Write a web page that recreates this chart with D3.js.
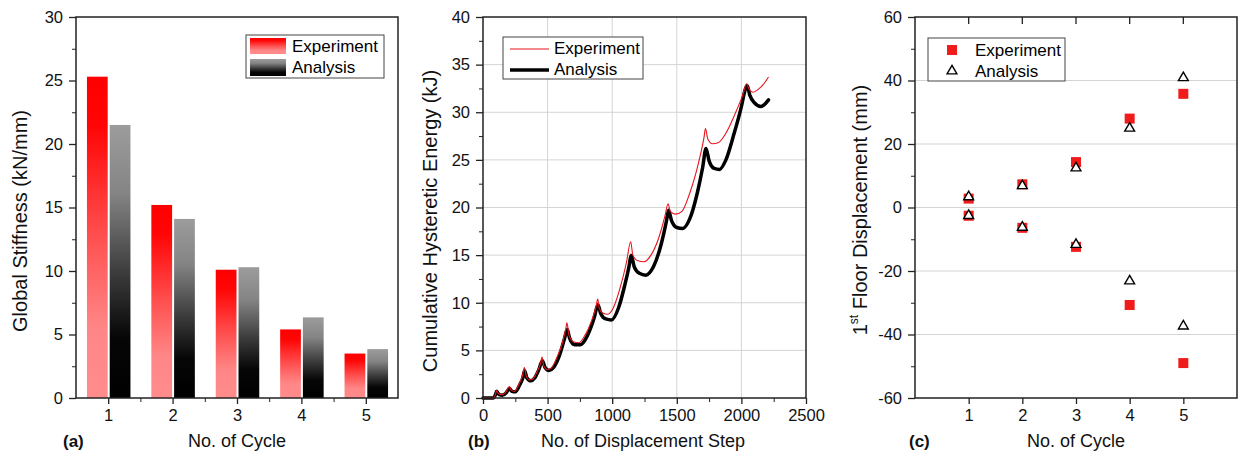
<!DOCTYPE html>
<html>
<head>
<meta charset="utf-8">
<script src="https://cdn.jsdelivr.net/npm/d3@7"></script>
<style>
  body { margin: 0; background: #fff; }
  svg { display: block; font-family: "Liberation Sans", Arial, sans-serif; }
  .axis path, .axis line { stroke: #222; }
</style>
</head>
<body>
<div id="chart"></div>
<script>
// (a) global stiffness per cycle
const cycles = [1, 2, 3, 4, 5];
const stiffnessExperiment = [25.3, 15.2, 10.1, 5.4, 3.5];
const stiffnessAnalysis = [21.5, 14.1, 10.3, 6.35, 3.85];

// (b) cumulative hysteretic energy, [step, kJ]
const energyExperiment = [
  [0, 0], [80, 0], [95, 0.3], [106, 0.77], [120, 0.45], [145, 0.35], [175, 0.6], [204, 1.19],
  [220, 0.8], [245, 0.7], [280, 1.5], [305, 2.3], [320, 3.2], [335, 2.3], [360, 1.9], [385, 2.0],
  [420, 2.8], [445, 3.6], [457, 4.3], [470, 3.4], [495, 3.0], [525, 3.1], [570, 4.2], [615, 5.8],
  [640, 7.2], [650, 7.9], [665, 6.6], [700, 5.9], [740, 5.8], [790, 6.6], [840, 8.1], [875, 9.6],
  [888, 10.4], [900, 9.4], [930, 8.9], [965, 8.8], [1010, 9.5], [1060, 11.5], [1110, 14.2], [1143, 16.4],
  [1160, 15.0], [1200, 14.4], [1245, 14.3], [1300, 15.0], [1360, 16.8], [1410, 19.2], [1432, 20.4],
  [1450, 19.6], [1490, 19.3], [1540, 19.6], [1600, 21.5], [1670, 24.8], [1710, 27.3], [1722, 28.3],
  [1740, 27.2], [1775, 26.7], [1820, 26.8], [1880, 27.8], [1950, 29.8], [2010, 31.8], [2040, 33.0],
  [2060, 32.4], [2090, 32.1], [2130, 32.4], [2180, 33.1], [2210, 33.7]
];
const energyAnalysis = [
  [0, 0], [80, 0], [95, 0.3], [106, 0.7], [125, 0.35], [150, 0.3], [180, 0.55], [204, 1.0],
  [225, 0.7], [250, 0.65], [285, 1.4], [308, 2.1], [322, 2.85], [340, 2.1], [370, 1.8], [400, 2.1],
  [430, 2.9], [460, 3.9], [480, 3.2], [510, 2.9], [545, 3.2], [590, 4.4], [630, 6.2], [652, 7.2],
  [670, 6.3], [710, 5.6], [755, 5.6], [810, 6.6], [860, 8.4], [890, 9.8], [910, 8.9], [950, 8.3],
  [995, 8.2], [1050, 9.5], [1100, 12.0], [1130, 13.8], [1147, 15.0], [1170, 13.8], [1210, 13.1],
  [1260, 12.9], [1320, 13.8], [1380, 16.2], [1420, 18.6], [1436, 19.7], [1460, 18.6], [1500, 17.9],
  [1545, 17.8], [1600, 18.8], [1660, 21.6], [1700, 24.2], [1726, 26.2], [1750, 24.9], [1790, 24.1],
  [1830, 24.0], [1880, 25.0], [1940, 27.6], [2000, 30.6], [2030, 32.4], [2045, 32.8], [2065, 31.8],
  [2100, 31.0], [2150, 30.6], [2185, 30.9], [2210, 31.3]
];

// (c) 1st floor displacement, positive and negative peaks per cycle
const dispExperimentPos = [2.8, 7.3, 14.3, 28.0, 35.8];
const dispExperimentNeg = [-2.6, -6.4, -12.4, -30.7, -49.0];
const dispAnalysisPos = [3.5, 7.0, 12.6, 25.1, 41.0];
const dispAnalysisNeg = [-2.4, -6.1, -11.5, -23.0, -37.2];

const FONT = "'Liberation Sans', Arial, sans-serif";
const svg = d3.select("#chart").append("svg")
    .attr("width", 1242)
    .attr("height", 461);
const defs = svg.append("defs");

function _gradient(id, stops) {
    const g = defs.append("linearGradient").attr("id", id)
        .attr("x1", 0).attr("y1", 0).attr("x2", 0).attr("y2", 1);
    stops.forEach(s => g.append("stop").attr("offset", s[0]).attr("stop-color", s[1]));
}
_gradient("redFade", [[0, "#ff0000"], [0.15, "#ff0505"], [0.5, "#ff5050"], [0.78, "#ff8686"], [1, "#ff8c8c"]]);
_gradient("greyFade", [[0, "#9c9c9c"], [0.25, "#848484"], [0.55, "#3a3a3a"], [0.78, "#060606"], [1, "#000"]]);

function _frame(g, box) {
    g.append("rect")
        .attr("x", box.left).attr("y", box.top)
        .attr("width", box.right - box.left).attr("height", box.bottom - box.top)
        .attr("fill", "none").attr("stroke", "#222").attr("stroke-width", 1.5);
}

function _axes(g, box, x, y, xMajor, xMinor, yMajor, yMinor) {
    const fmt = d => String(d);
    const xa = g.append("g").attr("class", "axis").attr("transform", `translate(0,${box.bottom})`)
        .call(d3.axisBottom(x).tickValues(xMajor).tickSize(6).tickPadding(5).tickFormat(fmt));
    xa.select(".domain").remove();
    xa.selectAll("line").attr("stroke-width", 1.3);
    if (xMinor.length) {
        const xm = g.append("g").attr("class", "axis").attr("transform", `translate(0,${box.bottom})`)
            .call(d3.axisBottom(x).tickValues(xMinor).tickSize(4).tickFormat(""));
        xm.select(".domain").remove();
    }
    const ya = g.append("g").attr("class", "axis").attr("transform", `translate(${box.left},0)`)
        .call(d3.axisLeft(y).tickValues(yMajor).tickSize(7).tickPadding(6).tickFormat(fmt));
    ya.select(".domain").remove();
    ya.selectAll("line").attr("stroke-width", 1.3);
    const ym = g.append("g").attr("class", "axis").attr("transform", `translate(${box.left},0)`)
        .call(d3.axisLeft(y).tickValues(yMinor).tickSize(4).tickFormat(""));
    ym.select(".domain").remove();
    g.selectAll(".axis text")
        .attr("font-size", 16.5).attr("font-family", FONT).attr("fill", "#111");
}

function _labels(g, yLabelX, yLabelY, yLabel, xLabelX, xLabel, tag, tagX) {
    const yl = g.append("text")
        .attr("transform", `translate(${yLabelX},${yLabelY}) rotate(-90)`)
        .attr("text-anchor", "middle").attr("dy", "0.35em")
        .attr("font-size", 20).attr("fill", "#111");
    if (Array.isArray(yLabel)) {
        yl.append("tspan").text(yLabel[0]);
        yl.append("tspan").attr("font-size", 12).attr("dy", "-0.75em").text(yLabel[1]);
        yl.append("tspan").attr("dy", "0.45em").text(yLabel[2]);
    } else {
        yl.text(yLabel);
    }
    g.append("text").attr("x", xLabelX).attr("y", 447)
        .attr("text-anchor", "middle").attr("font-size", 18).attr("fill", "#111").text(xLabel);
    g.append("text").attr("x", tagX).attr("y", 447)
        .attr("font-size", 17).attr("font-weight", "bold").attr("fill", "#111").text(tag);
}

function _plotStiffness() {
    const box = {left: 76, right: 398, top: 17, bottom: 398};
    const g = svg.append("g");
    const x = d3.scaleLinear().domain([0.5, 5.5]).range([box.left, box.right]);
    const y = d3.scaleLinear().domain([0, 30]).range([box.bottom, box.top]);
    const barW = x(1.33) - x(1);

    g.selectAll(".exp").data(cycles).join("rect")
        .attr("x", d => x(d) - barW)
        .attr("y", (d, i) => y(stiffnessExperiment[i]))
        .attr("width", barW - 0.5)
        .attr("height", (d, i) => y(0) - y(stiffnessExperiment[i]))
        .attr("fill", "url(#redFade)");
    g.selectAll(".ana").data(cycles).join("rect")
        .attr("x", d => x(d) + 1.5)
        .attr("y", (d, i) => y(stiffnessAnalysis[i]))
        .attr("width", barW - 0.5)
        .attr("height", (d, i) => y(0) - y(stiffnessAnalysis[i]))
        .attr("fill", "url(#greyFade)");

    _frame(g, box);
    _axes(g, box, x, y, cycles, [1.5, 2.5, 3.5, 4.5], d3.range(0, 31, 5), d3.range(2.5, 30, 5));

    const lg = g.append("g");
    lg.append("rect").attr("x", 246).attr("y", 35).attr("width", 138).attr("height", 43)
        .attr("fill", "#fff").attr("stroke", "#444").attr("stroke-width", 1);
    lg.append("rect").attr("x", 250).attr("y", 38).attr("width", 36).attr("height", 16).attr("fill", "url(#redFade)");
    lg.append("rect").attr("x", 250).attr("y", 59).attr("width", 36).attr("height", 17).attr("fill", "url(#greyFade)");
    lg.append("text").attr("x", 292).attr("y", 52).attr("font-size", 17).text("Experiment");
    lg.append("text").attr("x", 292).attr("y", 73).attr("font-size", 17).text("Analysis");

    _labels(g, 20, 221, "Global Stiffness (kN/mm)", 237, "No. of Cycle", "(a)", 63);
}

function _plotEnergy() {
    const box = {left: 483, right: 806, top: 17, bottom: 398};
    const g = svg.append("g");
    const x = d3.scaleLinear().domain([0, 2500]).range([box.left, box.right]);
    const y = d3.scaleLinear().domain([0, 40]).range([box.bottom, box.top]);

    g.append("g").selectAll("line").data(d3.range(500, 2500, 500)).join("line")
        .attr("x1", d => x(d)).attr("x2", d => x(d)).attr("y1", box.top).attr("y2", box.bottom)
        .attr("stroke", "#d4d4d4").attr("stroke-width", 1);
    g.append("g").selectAll("line").data(d3.range(5, 40, 5)).join("line")
        .attr("x1", box.left).attr("x2", box.right).attr("y1", d => y(d)).attr("y2", d => y(d))
        .attr("stroke", "#d4d4d4").attr("stroke-width", 1);

    const line = d3.line().x(d => x(d[0])).y(d => y(d[1])).curve(d3.curveMonotoneX);
    g.append("path").datum(energyAnalysis).attr("d", line)
        .attr("fill", "none").attr("stroke", "#000").attr("stroke-width", 3.5)
        .attr("stroke-linejoin", "round").attr("stroke-linecap", "round");
    g.append("path").datum(energyExperiment).attr("d", line)
        .attr("fill", "none").attr("stroke", "#e8141c").attr("stroke-width", 1.1)
        .attr("stroke-linejoin", "round");

    _frame(g, box);
    _axes(g, box, x, y, d3.range(0, 2501, 500), d3.range(250, 2500, 500), d3.range(0, 41, 5), d3.range(2.5, 40, 5));

    const lg = g.append("g");
    lg.append("rect").attr("x", 503).attr("y", 37).attr("width", 140).attr("height", 42)
        .attr("fill", "#fff").attr("stroke", "#444").attr("stroke-width", 1);
    lg.append("line").attr("x1", 510).attr("x2", 549).attr("y1", 49).attr("y2", 49)
        .attr("stroke", "#e8141c").attr("stroke-width", 1.1);
    lg.append("line").attr("x1", 510).attr("x2", 549).attr("y1", 70).attr("y2", 70)
        .attr("stroke", "#000").attr("stroke-width", 3.5);
    lg.append("text").attr("x", 554).attr("y", 54).attr("font-size", 17).text("Experiment");
    lg.append("text").attr("x", 554).attr("y", 75).attr("font-size", 17).text("Analysis");

    _labels(g, 430, 221, "Cumulative Hysteretic Energy (kJ)", 643, "No. of Displacement Step", "(b)", 468);
}

function _plotDisplacement() {
    const box = {left: 915, right: 1237, top: 17, bottom: 398};
    const g = svg.append("g");
    const x = d3.scaleLinear().domain([0, 6]).range([box.left, box.right]);
    const y = d3.scaleLinear().domain([-60, 60]).range([box.bottom, box.top]);

    g.append("g").selectAll("line").data([-40, -20, 0, 20, 40]).join("line")
        .attr("x1", box.left).attr("x2", box.right).attr("y1", d => y(d)).attr("y2", d => y(d))
        .attr("stroke", "#d4d4d4").attr("stroke-width", 1);

    const sq = 10;
    const squares = cycles.flatMap((c, i) => [[c, dispExperimentPos[i]], [c, dispExperimentNeg[i]]]);
    const triangles = cycles.flatMap((c, i) => [[c, dispAnalysisPos[i]], [c, dispAnalysisNeg[i]]]);
    g.selectAll(".sq").data(squares).join("rect")
        .attr("x", d => x(d[0]) - sq / 2).attr("y", d => y(d[1]) - sq / 2)
        .attr("width", sq).attr("height", sq).attr("fill", "#f01c1c");
    const tri = d3.symbol().type(d3.symbolTriangle).size(42);
    g.selectAll(".tri").data(triangles).join("path")
        .attr("d", tri)
        .attr("transform", d => `translate(${x(d[0])},${y(d[1]) + 0.5})`)
        .attr("fill", "#fff").attr("stroke", "#000").attr("stroke-width", 1.4);

    _frame(g, box);
    _axes(g, box, x, y, cycles, [], d3.range(-60, 61, 20), d3.range(-50, 60, 20));
    // inward ticks along the top edge
    g.append("g").selectAll("line").data(cycles).join("line")
        .attr("x1", d => x(d)).attr("x2", d => x(d)).attr("y1", box.top).attr("y2", box.top + 7)
        .attr("stroke", "#222").attr("stroke-width", 1.3);

    const lg = g.append("g");
    lg.append("rect").attr("x", 928).attr("y", 38).attr("width", 137).attr("height", 43)
        .attr("fill", "#fff").attr("stroke", "#444").attr("stroke-width", 1);
    lg.append("rect").attr("x", 947).attr("y", 45).attr("width", sq).attr("height", sq).attr("fill", "#f01c1c");
    lg.append("path").attr("d", tri).attr("transform", "translate(952,71)")
        .attr("fill", "#fff").attr("stroke", "#000").attr("stroke-width", 1.4);
    lg.append("text").attr("x", 975).attr("y", 56).attr("font-size", 17).text("Experiment");
    lg.append("text").attr("x", 975).attr("y", 77).attr("font-size", 17).text("Analysis");

    _labels(g, 860, 210, ["1", "st", " Floor Displacement (mm)"], 1076, "No. of Cycle", "(c)", 909);
}

_plotStiffness();
_plotEnergy();
_plotDisplacement();
</script>
</body>
</html>
